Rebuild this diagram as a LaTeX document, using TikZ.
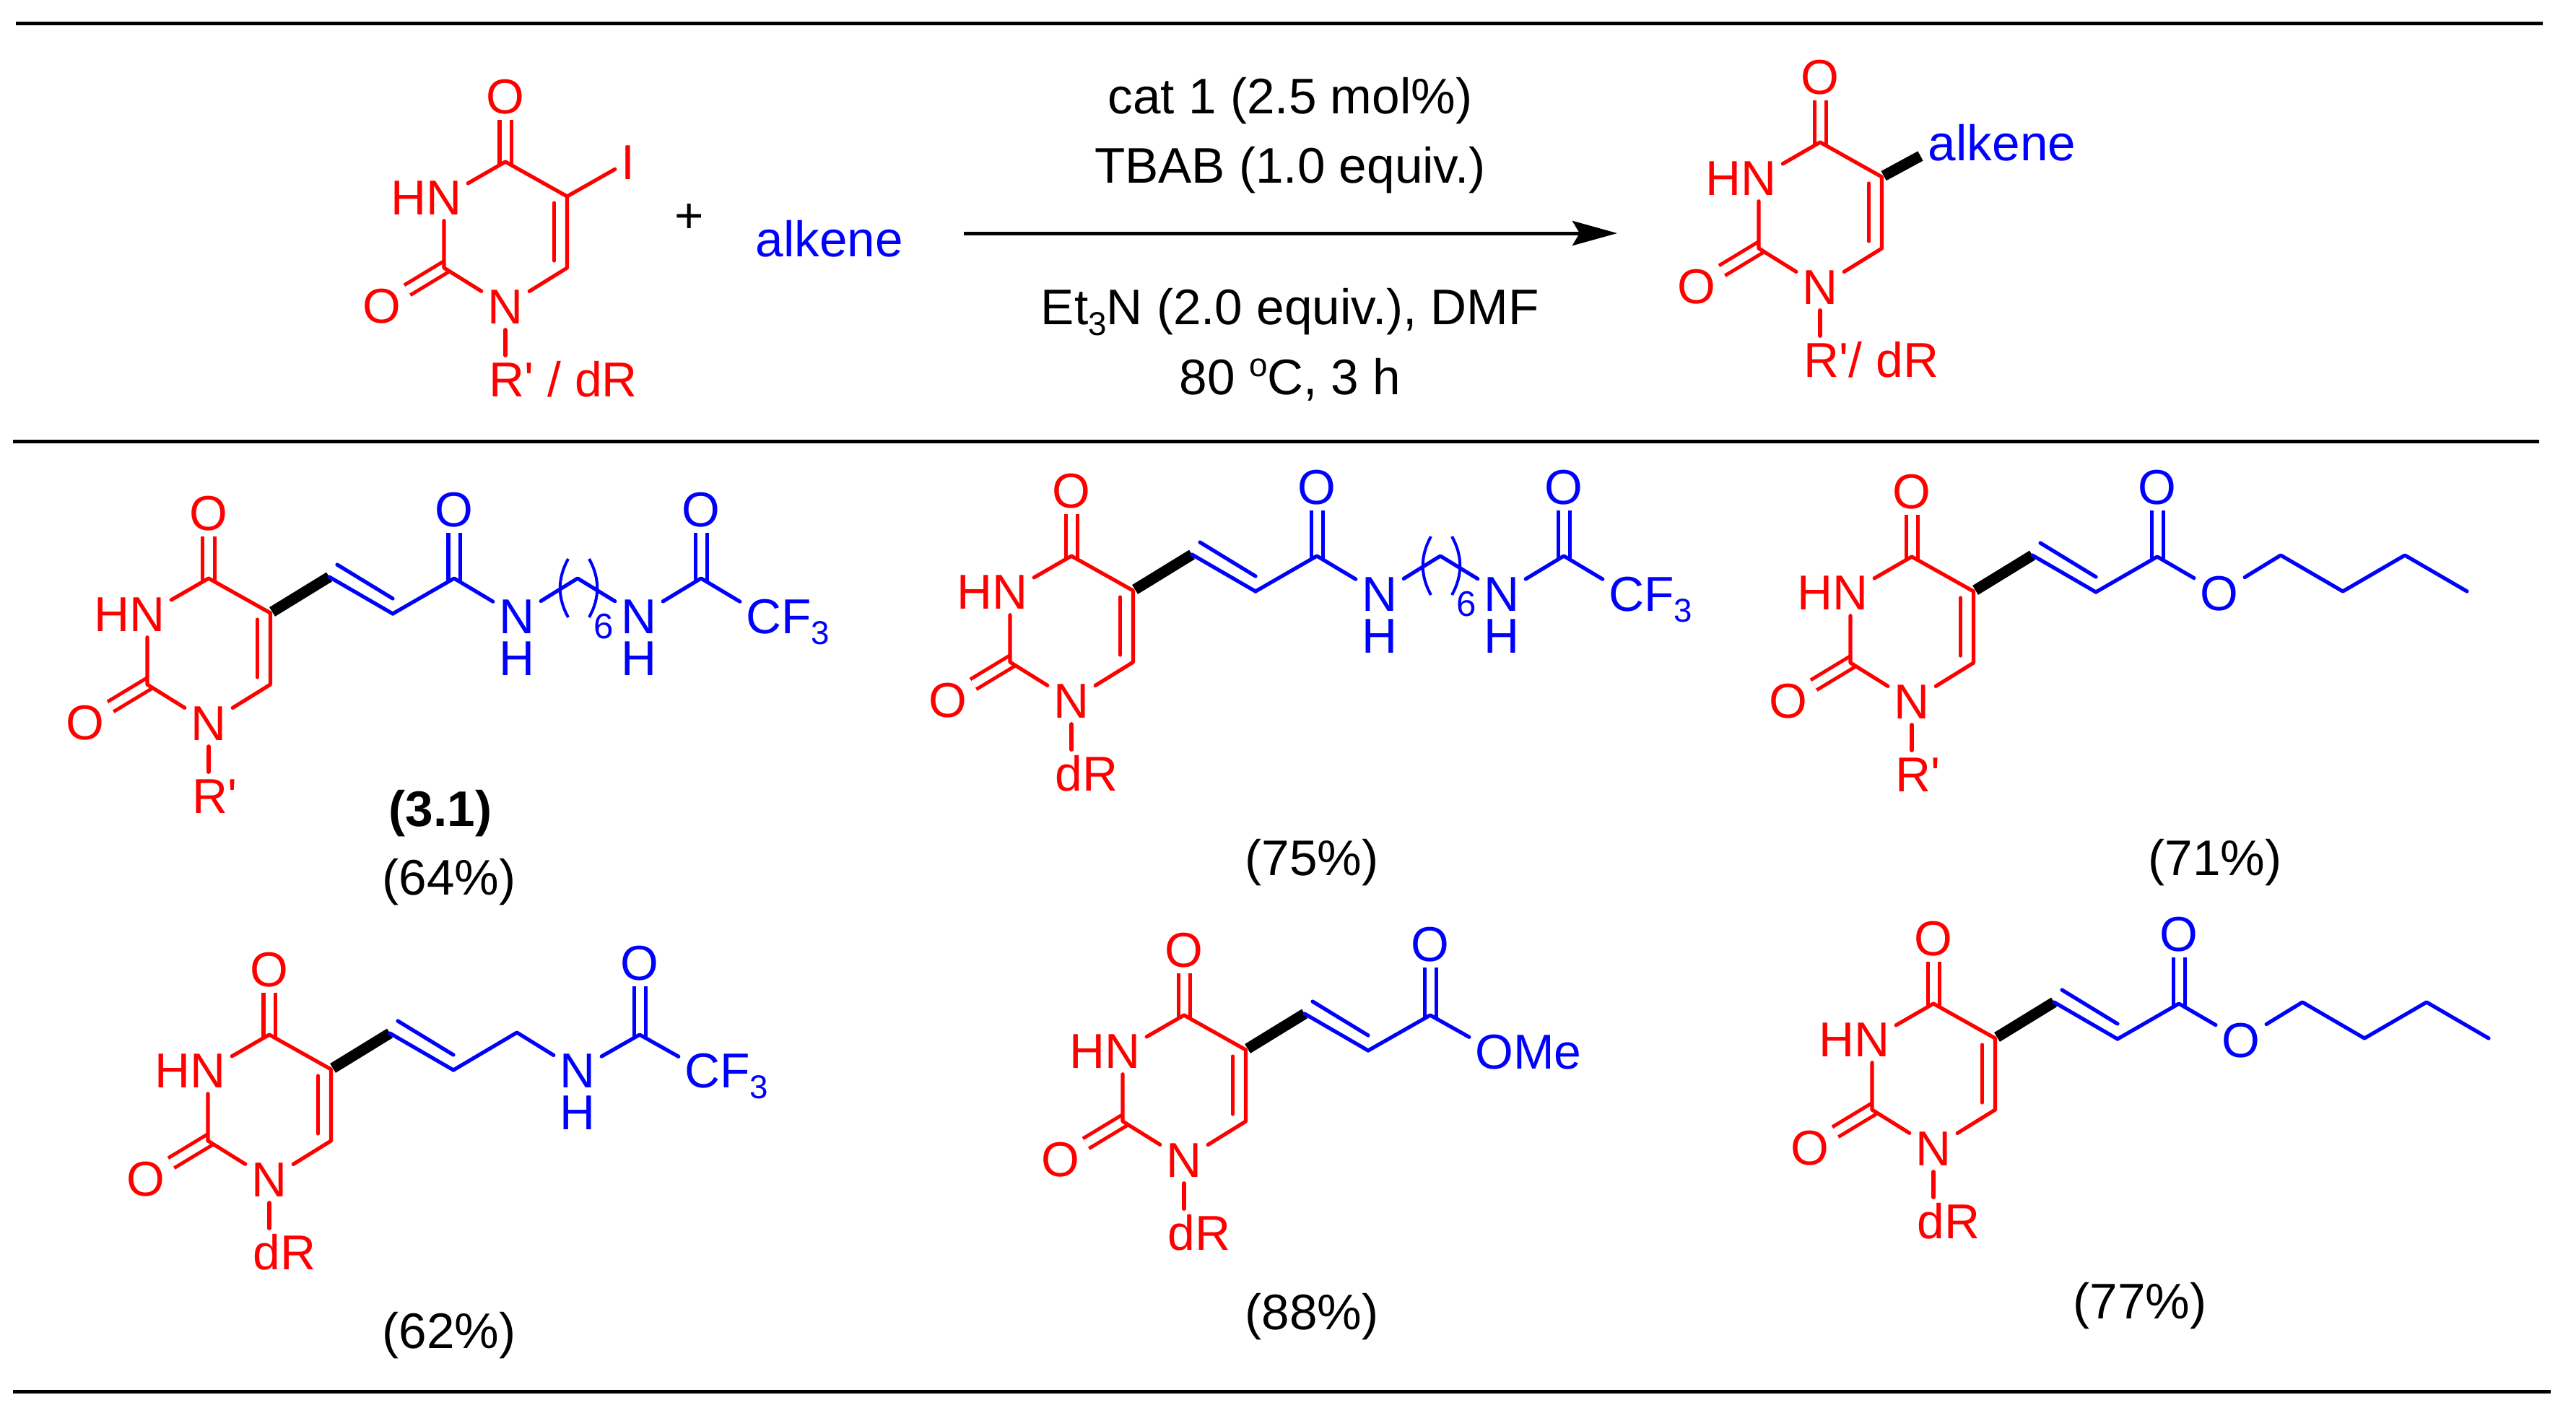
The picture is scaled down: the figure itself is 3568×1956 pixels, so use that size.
\documentclass[tikz,border=0pt]{standalone}
\usepackage{fontspec}
\setmainfont{Liberation Sans}[Ligatures=TeXOff]
\usetikzlibrary{arrows.meta}
\newcommand{\lowsc}[1]{\smash{\raisebox{-0.155cm}{\fontsize{13}{13}\selectfont #1}}}
\newcommand{\highsc}[1]{\raisebox{0.25cm}{\fontsize{13}{13}\selectfont #1}}
\tikzset{
    atom/.style={inner sep=0.08cm,text height=0.48cm,text depth=0cm,font=\fontsize{19.3}{23}\selectfont},
    ratom/.style={atom,text=red},
    batom/.style={atom,text=blue},
    hatom/.style={batom,inner sep=0pt},
    numlab/.style={inner sep=0pt,text=blue,font=\fontsize{14}{14}\selectfont},
    textlab/.style={anchor=base,inner sep=0pt,font=\fontsize{19.7}{23}\selectfont},
    rbond/.style={draw=red,line width=0.052cm,line cap=round,line join=round},
    bbond/.style={draw=blue,line width=0.052cm,line cap=round,line join=round},
    rdbl/.style={draw=red,line width=0.05cm,double=white,double distance=0.11cm,shorten <=-0.05cm},
    bdbl/.style={draw=blue,line width=0.05cm,double=white,double distance=0.11cm,shorten <=-0.05cm},
    boldbond/.style={draw=black,line width=0.15cm,shorten <=0.03cm},
    paren/.style={draw=blue,line width=0.04cm},
    hrule/.style={draw=black,line width=0.05cm},
    uracil/.pic={
        \node[ratom] (o4) at (0,-91) {O};
        \node[ratom] (o2) at (-171,199) {O};
        \node[ratom] (n3) at (-85,49) {\llap{H}N};
        \node[ratom] (n1) at (0,200) {N};
        \node[ratom,anchor=base west] (r1) at (-31,325) {#1};
        \coordinate (c4) at (0,0);
        \coordinate (c5) at (85.5,48);
        \coordinate (c6) at (85.5,147);
        \coordinate (c2) at (-85,147);
        \coordinate (c5in) at (67.5,57);
        \coordinate (c6in) at (67.5,137);
        \draw[rdbl] (c4) -- (o4);
        \draw[rdbl] (c2) -- (o2);
        \draw[rbond] (c4) -- (c5) -- (c6) -- (n1) -- (c2) -- (n3) -- (c4);
        \draw[rbond] (c5in) -- (c6in);
        \draw[rbond] (n1) -- (n1 |- r1.north);
    },
    vinyl/.pic={
        \coordinate (ca) at (167,-2);
        \coordinate (cb) at (255,49);
        \coordinate (cain) at (178,-19);
        \coordinate (cbin) at (255,28);
        \draw[boldbond] (c5) -- (ca);
        \draw[bbond] (ca) -- (cb);
        \draw[bbond] (cain) -- (cbin);
    },
    hexamide/.pic={
        \coordinate (co) at (340,0);
        \coordinate (cm) at (511,0);
        \coordinate (cc) at (682,0);
        \node[batom] (oa) at (340,-96) {O};
        \node[batom] (na) at (427,52) {N};
        \node[hatom] (ha) at (427,110) {H};
        \node[batom] (nb) at (596,52) {N};
        \node[hatom] (hb) at (596,110) {H};
        \node[batom] (ob) at (682,-96) {O};
        \node[batom] (cf) at (769,52) {C\rlap{F\lowsc{3}}};
        \node[numlab] (six) at (547,67) {6};
        \coordinate (pla) at (498,-27);
        \coordinate (plb) at (498,54);
        \coordinate (pra) at (527,-27);
        \coordinate (prb) at (527,54);
        \draw[bdbl] (co) -- (oa);
        \draw[bdbl] (cc) -- (ob);
        \draw[bbond] (cb) -- (co) -- (na);
        \draw[bbond] (na) -- (cm) -- (nb);
        \draw[bbond] (nb) -- (cc) -- (cf);
        \draw[paren] (pla) .. controls (483,0) and (483,27) .. (plb);
        \draw[paren] (pra) .. controls (542,0) and (542,27) .. (prb);
    },
    butylester/.pic={
        \coordinate (co) at (340,0);
        \coordinate (cd) at (511,-2);
        \coordinate (ce) at (597,48);
        \coordinate (cf) at (683,-2);
        \coordinate (cg) at (769,48);
        \node[batom] (oa) at (340,-97) {O};
        \node[batom] (oe) at (426,50) {O};
        \draw[bdbl] (co) -- (oa);
        \draw[bbond] (cb) -- (co) -- (oe);
        \draw[bbond] (oe) -- (cd) -- (ce) -- (cf) -- (cg);
    },
    methylester/.pic={
        \coordinate (co) at (341,0);
        \node[batom] (oa) at (341,-99) {O};
        \node[batom] (ome) at (430,50) {O\rlap{Me}};
        \draw[bdbl] (co) -- (oa);
        \draw[bbond] (cb) -- (co) -- (ome);
    },
    allylamide/.pic={
        \coordinate (cm) at (343,-3);
        \coordinate (cc) at (513,0);
        \node[batom] (na) at (427,49) {N};
        \node[hatom] (ha) at (427,107) {H};
        \node[batom] (oa) at (513,-100) {O};
        \node[batom] (cf) at (600,49) {C\rlap{F\lowsc{3}}};
        \draw[bdbl] (cc) -- (oa);
        \draw[bbond] (cb) -- (cm) -- (na);
        \draw[bbond] (na) -- (cc) -- (cf);
    },
}

\begin{document}
\begin{tikzpicture}[x=0.01cm,y=-0.01cm]
    \useasboundingbox (0,0) rectangle (3568,1956);

    \foreach \name/\xl/\xr/\y in {top/22/3522/32,mid/18/3517/611,bot/18/3533/1927} {
        \coordinate (\name l) at (\xl,\y);
        \coordinate (\name r) at (\xr,\y);
        \draw[hrule] (\name l) -- (\name r);
    }

    \pic (sm-) at (700,224) {uracil={R' / dR}};
    \node[ratom] (iodo) at (870,224) {I};
    \draw[rbond] (sm-c5) -- (iodo);
    \node[textlab] (plus) at (955,322) {+};
    \node[textlab,text=blue] (alk) at (1149,355) {alkene};

    \coordinate (arrl) at (1335,323);
    \coordinate (arrr) at (2240,323);
    \draw[hrule,-{Stealth[length=0.62cm,width=0.34cm,inset=0.1cm]}] (arrl) -- (arrr);
    \node[textlab] (cat) at (1787,157) {cat 1  (2.5 mol\%)};
    \node[textlab] (tbab) at (1787,253) {TBAB (1.0 equiv.)};
    \node[textlab] (base) at (1787,449) {Et\lowsc{3}N (2.0 equiv.), DMF};
    \node[textlab] (temp) at (1787,546) {80 \highsc{o}C, 3 h};

    \pic (pr-) at (2521,197) {uracil={R'/ dR}};
    \node[textlab,text=blue] (alkpr) at (2773,222) {alkene};
    \coordinate (pr-ca) at (2660,216);
    \draw[boldbond] (pr-c5) -- (pr-ca);

    \pic (a-) at (289,801) {uracil={R'}};
    \pic (a-) at (289,801) {vinyl};
    \pic (a-) at (289,801) {hexamide};
    \node[textlab,font=\fontsize{19.7}{23}\selectfont\bfseries] (lab) at (610,1144) {(3.1)};

    \pic (b-) at (1484,770) {uracil={dR}};
    \pic (b-) at (1484,770) {vinyl};
    \pic (b-) at (1484,770) {hexamide};

    \pic (c-) at (2648,771) {uracil={R'}};
    \pic (c-) at (2648,771) {vinyl};
    \pic (c-) at (2648,771) {butylester};

    \pic (d-) at (373,1433) {uracil={dR}};
    \pic (d-) at (373,1433) {vinyl};
    \pic (d-) at (373,1433) {allylamide};

    \pic (e-) at (1640,1406) {uracil={dR}};
    \pic (e-) at (1640,1406) {vinyl};
    \pic (e-) at (1640,1406) {methylester};

    \pic (f-) at (2678,1390) {uracil={dR}};
    \pic (f-) at (2678,1390) {vinyl};
    \pic (f-) at (2678,1390) {butylester};

    \foreach \name/\x/\y/\val in {ya/622/1239/64,yb/1817/1212/75,yc/3068/1212/71,yd/622/1867/62,ye/1817/1841/88,yf/2964/1826/77} {
        \node[textlab] (\name) at (\x,\y) {(\val\%)};
    }
\end{tikzpicture}
\end{document}
